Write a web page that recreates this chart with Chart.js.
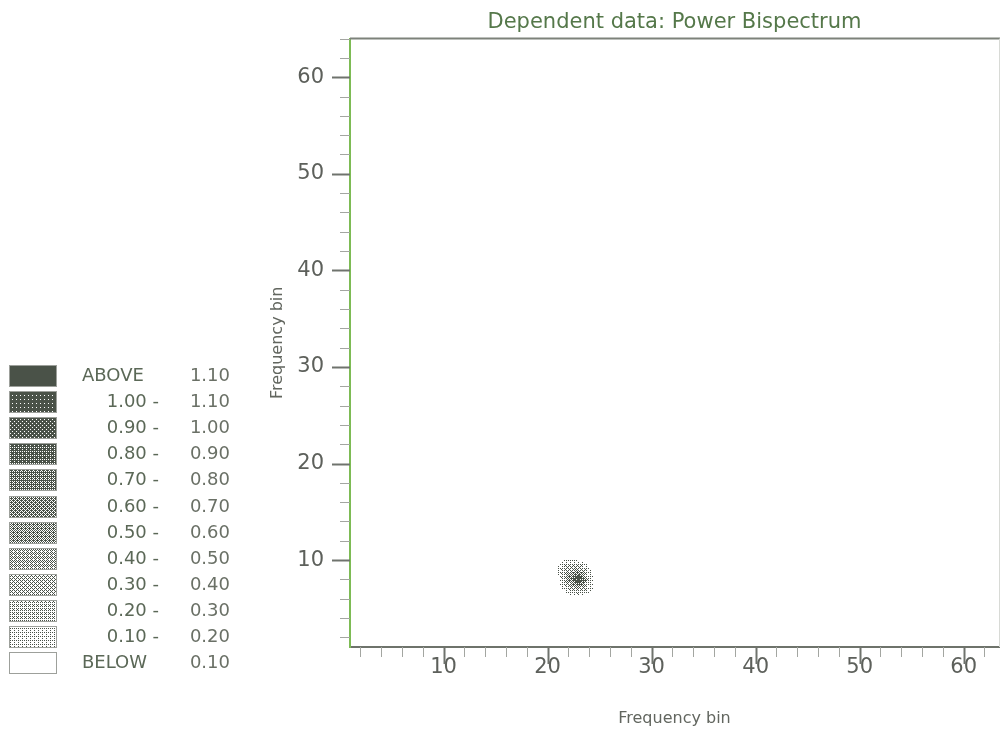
<!DOCTYPE html>
<html>
<head>
<meta charset="utf-8">
<script src="https://cdn.jsdelivr.net/npm/chart.js@4.4.1/dist/chart.umd.min.js"></script>
<style>
  html, body { margin: 0; padding: 0; background: #ffffff; overflow: hidden; }
  #wrap { width: 1000px; height: 732px; }
</style>
</head>
<body>
<div id="wrap"><canvas id="c" width="1000" height="732"></canvas></div>
<script>
// ---------------- data ----------------
const titleText = 'Dependent data: Power Bispectrum';
const xTitle = 'Frequency bin';
const yTitle = 'Frequency bin';
const xMin = 1, xMax = 63.4;
const yMin = 1, yMax = 64;
const xMajorTicks = [10, 20, 30, 40, 50, 60];
const yMajorTicks = [10, 20, 30, 40, 50, 60];
const xAllTicks = [2,4,6,8,10,12,14,16,18,20,22,24,26,28,30,32,34,36,38,40,42,44,46,48,50,52,54,56,58,60,62];
const yAllTicks = [2,4,6,8,10,12,14,16,18,20,22,24,26,28,30,32,34,36,38,40,42,44,46,48,50,52,54,56,58,60,62,64];

// bispectrum values on the bins around the single peak (rows follow yBins)
const xBins = [20, 21, 22, 23, 24, 25, 26];
const yBins = [5, 6, 7, 8, 9, 10, 11];
const power = [
  [0.00, 0.00, 0.00, 0.00, 0.00, 0.00, 0.00], // y = 5
  [0.00, 0.00, 0.00, 0.00, 0.00, 0.00, 0.00], // y = 6
  [0.00, 0.04, 0.20, 0.40, 0.15, 0.00, 0.00], // y = 7
  [0.00, 0.06, 0.50, 1.25, 0.16, 0.00, 0.00], // y = 8
  [0.00, 0.12, 0.40, 0.42, 0.12, 0.00, 0.00], // y = 9
  [0.00, 0.05, 0.12, 0.08, 0.02, 0.00, 0.00], // y = 10
  [0.00, 0.00, 0.00, 0.00, 0.00, 0.00, 0.00]  // y = 11
];

// contour levels (legend, top to bottom)
const levelLow  = ['ABOVE', '1.00 -', '0.90 -', '0.80 -', '0.70 -', '0.60 -', '0.50 -', '0.40 -', '0.30 -', '0.20 -', '0.10 -', 'BELOW'];
const levelHigh = ['1.10', '1.10', '1.00', '0.90', '0.80', '0.70', '0.60', '0.50', '0.40', '0.30', '0.20', '0.10'];
const levelBreaks = [0.10, 0.20, 0.30, 0.40, 0.50, 0.60, 0.70, 0.80, 0.90, 1.00, 1.10];

// ---------------- styling ----------------
const FONT = '"DejaVu Sans", "Liberation Sans", Arial, sans-serif';
const darkInk = '#4a5248';
const rowCoverage = [1.0, 0.94, 0.87, 0.8, 0.71, 0.63, 0.55, 0.46, 0.37, 0.29, 0.21, 0.0];
const bayer = [[0, 8, 2, 10], [12, 4, 14, 6], [3, 11, 1, 9], [15, 7, 13, 5]];

const patterns = [];
(function makePatterns() {
  const tmp = document.createElement('canvas').getContext('2d');
  rowCoverage.forEach(cov => {
    const pc = document.createElement('canvas');
    pc.width = 4; pc.height = 4;
    const g = pc.getContext('2d');
    g.fillStyle = '#ffffff'; g.fillRect(0, 0, 4, 4);
    g.fillStyle = darkInk;
    for (let r = 0; r < 4; r++) for (let c = 0; c < 4; c++) {
      if ((bayer[r][c] + 0.5) / 16 < cov) g.fillRect(c, r, 1, 1);
    }
    patterns.push(tmp.createPattern(pc, 'repeat'));
  });
})();

function levelRow(v) {
  const n = levelBreaks.filter(b => v >= b - 1e-9).length;
  return 11 - n;
}

function interp(x, y) {
  const x0 = xBins[0], y0 = yBins[0];
  const fx = x - x0, fy = y - y0;
  if (fx < 0 || fy < 0 || fx > xBins.length - 1 || fy > yBins.length - 1) return 0;
  const i = Math.min(Math.floor(fx), xBins.length - 2);
  const j = Math.min(Math.floor(fy), yBins.length - 2);
  const tx = fx - i, ty = fy - j;
  const a = power[j][i], b = power[j][i + 1], c = power[j + 1][i], d = power[j + 1][i + 1];
  return a * (1 - tx) * (1 - ty) + b * tx * (1 - ty) + c * (1 - tx) * ty + d * tx * ty;
}

const scatterPoints = [];
yBins.forEach((yv, j) => xBins.forEach((xv, i) => scatterPoints.push({ x: xv, y: yv, v: power[j][i] })));

const contourPlugin = {
  id: 'contour',
  beforeDatasetsDraw(chart) {
    const { ctx, chartArea, scales } = chart;
    const sx = scales.x, sy = scales.y;
    const px0 = Math.floor(sx.getPixelForValue(xBins[0])), px1 = Math.ceil(sx.getPixelForValue(xBins[xBins.length - 1]));
    const py0 = Math.floor(sy.getPixelForValue(yBins[yBins.length - 1])), py1 = Math.ceil(sy.getPixelForValue(yBins[0]));
    ctx.save();
    ctx.beginPath();
    ctx.rect(chartArea.left, chartArea.top, chartArea.right - chartArea.left, chartArea.bottom - chartArea.top);
    ctx.clip();
    for (let py = py0; py <= py1; py++) {
      const yv = sy.getValueForPixel(py + 0.5);
      for (let px = px0; px <= px1; px++) {
        const xv = sx.getValueForPixel(px + 0.5);
        const v = interp(xv, yv);
        const row = levelRow(v);
        if (row === 11) continue;
        ctx.fillStyle = patterns[row];
        ctx.fillRect(px, py, 1, 1);
      }
    }
    ctx.restore();
  },
  afterDraw(chart) {
    const { ctx, chartArea, scales } = chart;
    const sx = scales.x, sy = scales.y;
    ctx.save();
    // frame: top and right
    ctx.strokeStyle = '#7d827a';
    ctx.lineWidth = 2;
    ctx.beginPath();
    ctx.moveTo(chartArea.left, chartArea.top);
    ctx.lineTo(1000, chartArea.top);
    ctx.stroke();
    ctx.strokeStyle = '#d8dad6';
    ctx.lineWidth = 1;
    ctx.beginPath();
    ctx.moveTo(chartArea.right + 0.5, chartArea.top);
    ctx.lineTo(chartArea.right + 0.5, chartArea.bottom);
    ctx.stroke();

    // tick marks
    sx.ticks.forEach(t => {
      const major = xMajorTicks.includes(t.value);
      const x = Math.round(sx.getPixelForValue(t.value)) + 0.5;
      ctx.strokeStyle = major ? '#6f736d' : '#a3a6a1';
      ctx.lineWidth = major ? 2 : 1;
      ctx.beginPath();
      ctx.moveTo(x, chartArea.bottom);
      ctx.lineTo(x, chartArea.bottom + (major ? 17 : 10));
      ctx.stroke();
    });
    sy.ticks.forEach(t => {
      const major = yMajorTicks.includes(t.value);
      const y = Math.round(sy.getPixelForValue(t.value)) + 0.5;
      ctx.strokeStyle = major ? '#6f736d' : '#a3a6a1';
      ctx.lineWidth = major ? 2 : 1;
      ctx.beginPath();
      ctx.moveTo(chartArea.left, y);
      ctx.lineTo(chartArea.left - (major ? 18 : 10), y);
      ctx.stroke();
    });

    // legend of contour levels
    const lx = 9, lw = 47, ly0 = 365, lh = 21, step = 26.1;
    ctx.font = '18px ' + FONT;
    ctx.textBaseline = 'middle';
    levelLow.forEach((lab, i) => {
      const y = Math.round(ly0 + i * step);
      ctx.fillStyle = patterns[i];
      ctx.fillRect(lx, y, lw, lh);
      ctx.strokeStyle = '#9da09b';
      ctx.lineWidth = 1;
      ctx.strokeRect(lx + 0.5, y + 0.5, lw, lh);
      const cy = y + lh / 2 + 1;
      ctx.fillStyle = '#5b6857';
      if (lab === 'ABOVE' || lab === 'BELOW') {
        ctx.textAlign = 'left';
        ctx.fillText(lab, 82, cy);
      } else {
        ctx.textAlign = 'right';
        ctx.fillText(lab, 159, cy);
      }
      ctx.textAlign = 'right';
      ctx.fillStyle = '#6a7066';
      ctx.fillText(levelHigh[i], 230, cy);
    });
    ctx.restore();
  }
};

Chart.defaults.font.family = FONT;

new Chart(document.getElementById('c'), {
  type: 'scatter',
  data: {
    datasets: [{
      label: 'Power Bispectrum',
      data: scatterPoints,
      pointRadius: 0,
      pointHoverRadius: 0,
      showLine: false
    }]
  },
  options: {
    responsive: false,
    animation: false,
    events: [],
    layout: { padding: { left: 262, right: 1, top: 0, bottom: 0 } },
    plugins: {
      legend: { display: false },
      tooltip: { enabled: false },
      title: {
        display: true,
        text: titleText,
        fullSize: false,
        color: '#55784a',
        font: { family: FONT, size: 21, weight: 'normal' },
        padding: { top: 6, bottom: 3 }
      }
    },
    scales: {
      x: {
        type: 'linear',
        position: 'bottom',
        min: xMin,
        max: xMax,
        afterBuildTicks: s => { s.ticks = xAllTicks.map(v => ({ value: v })); },
        afterFit: s => { s.height = 85; },
        grid: { display: false, drawTicks: false },
        border: { display: true, color: '#6e736b', width: 2 },
        ticks: {
          autoSkip: false,
          maxRotation: 0,
          padding: 8,
          color: '#5d605b',
          font: { size: 21 },
          callback: v => xMajorTicks.includes(v) ? String(v) : ''
        },
        title: {
          display: true,
          text: xTitle,
          color: '#62665f',
          font: { size: 16 },
          padding: { top: 0, bottom: 4 }
        }
      },
      y: {
        type: 'linear',
        position: 'left',
        min: yMin,
        max: yMax,
        afterBuildTicks: s => { s.ticks = yAllTicks.map(v => ({ value: v })); },
        afterFit: s => { s.width = 88; },
        grid: { display: false, drawTicks: false },
        border: { display: true, color: '#7dbb55', width: 2 },
        ticks: {
          autoSkip: false,
          padding: 26,
          color: '#5d605b',
          font: { size: 21 },
          callback: v => yMajorTicks.includes(v) ? String(v) : ''
        },
        title: {
          display: true,
          text: yTitle,
          color: '#62665f',
          font: { size: 16 },
          padding: { top: 6, bottom: 0 }
        }
      }
    }
  },
  plugins: [contourPlugin]
});
</script>
</body>
</html>
